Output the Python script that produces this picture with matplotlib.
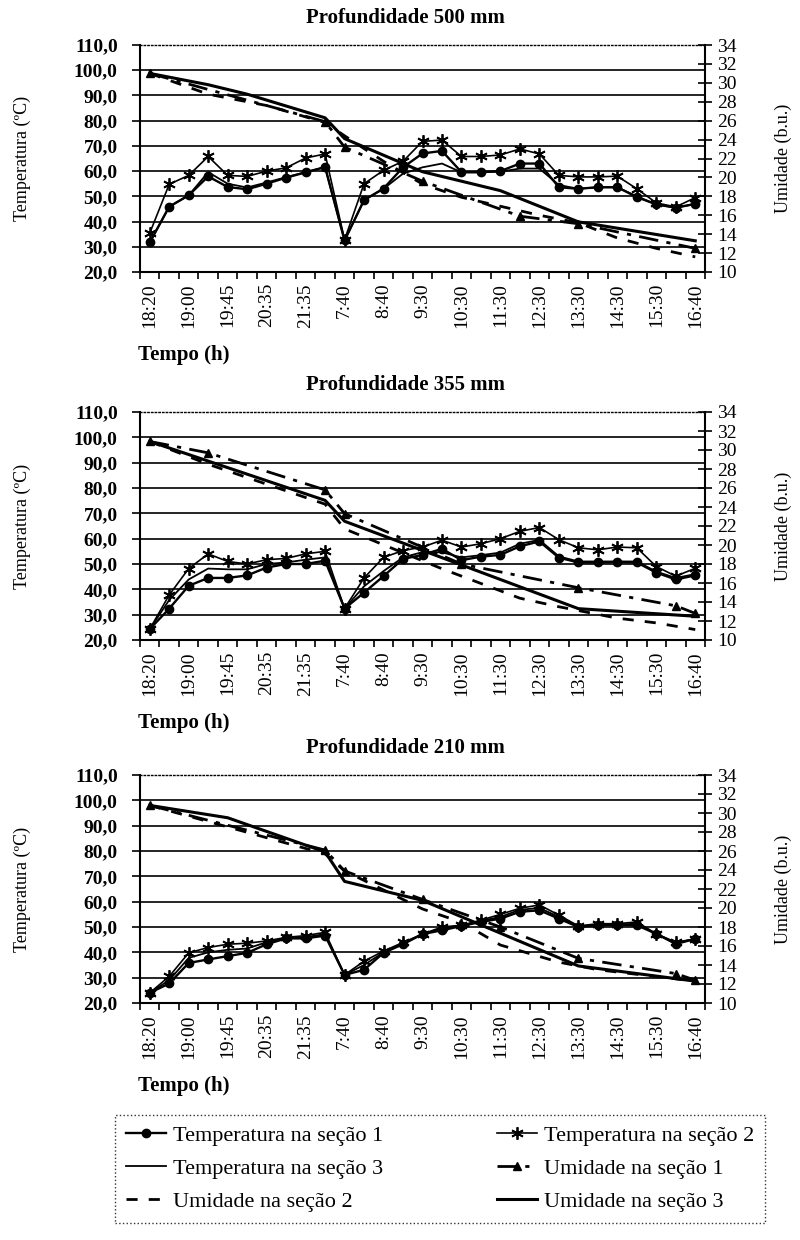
import numpy as np
import matplotlib.pyplot as plt
from matplotlib.lines import Line2D

plt.rcParams['font.family'] = ['Liberation Serif', 'DejaVu Serif']

# horários das leituras (rótulo a cada duas leituras)
tempos = ['18:20', '', '19:00', '', '19:45', '', '20:35', '', '21:35', '',
          '7:40', '', '8:40', '', '9:30', '', '10:30', '', '11:30', '',
          '12:30', '', '13:30', '', '14:30', '', '15:30', '', '16:40']

# ---- Profundidade 500 mm ----
t1_500 = [31.7, 45.9, 50.4, 57.9, 53.7, 52.8, 55.0, 57.4, 59.5, 61.6,
          32.5, 48.5, 53.1, 61.5, 67.0, 68.0, 59.6, 59.6, 60.0, 63.0,
          63.0, 53.6, 53.0, 53.6, 53.6, 49.7, 46.8, 45.5, 47.0]
t2_500 = [35.4, 54.8, 58.3, 65.8, 58.3, 57.9, 60.0, 61.3, 65.2, 66.8,
          32.8, 55.0, 60.3, 63.9, 71.8, 72.3, 65.8, 65.8, 66.4, 68.8,
          66.8, 58.3, 57.7, 57.7, 58.0, 53.0, 47.4, 45.8, 49.5]
t3_500 = [31.7, 45.9, 50.4, 59.6, 55.0, 53.5, 55.5, 57.6, 59.6, 61.6,
          32.5, 48.5, 53.0, 59.0, 61.5, 63.0, 59.5, 59.5, 59.8, 61.0,
          61.0, 54.5, 53.0, 53.6, 53.6, 50.0, 46.8, 45.5, 47.0]
u1_500_i = [0, 9, 10, 14, 19, 22, 28]
u1_500 = [31.0, 25.9, 23.2, 19.6, 15.9, 15.1, 12.5]
u2_500_i = [0, 3, 6, 9, 10, 12, 14, 16, 20, 22, 24, 26, 28]
u2_500 = [31.0, 28.8, 27.6, 25.8, 24.4, 21.7, 19.3, 17.9, 16.0, 15.2, 13.6, 12.5, 11.6]
u3_500_i = [0, 3, 5, 9, 10, 14, 18, 22, 28]
u3_500 = [31.0, 29.8, 28.8, 26.3, 24.1, 20.6, 18.6, 15.3, 13.3]

# ---- Profundidade 355 mm ----
t1_355 = [24.3, 32.4, 41.4, 44.5, 44.5, 45.5, 48.6, 50.0, 50.0, 51.3,
          32.4, 38.7, 45.2, 52.0, 53.6, 56.0, 51.5, 52.9, 53.6, 57.0,
          58.9, 52.5, 50.6, 50.6, 50.8, 50.6, 46.6, 43.9, 45.5]
t2_355 = [24.3, 37.8, 48.2, 54.0, 51.0, 50.0, 51.7, 52.2, 54.0, 55.0,
          32.4, 44.5, 52.6, 55.3, 56.7, 59.4, 56.7, 58.0, 60.0, 62.9,
          64.4, 59.6, 56.4, 55.6, 56.7, 56.4, 49.0, 45.2, 48.3]
t3_355 = [24.3, 35.8, 43.9, 48.2, 47.9, 47.9, 50.0, 50.6, 51.7, 52.6,
          32.4, 41.2, 47.2, 52.6, 54.7, 54.6, 52.6, 53.5, 54.5, 58.0,
          59.5, 53.0, 51.0, 51.0, 51.0, 51.0, 47.0, 44.5, 46.0]
u1_355_i = [0, 3, 9, 10, 16, 22, 27, 28]
u1_355 = [30.9, 29.7, 25.8, 23.3, 18.0, 15.5, 13.6, 12.8]
u2_355_i = [0, 3, 9, 10, 15, 19, 21, 24, 26, 28]
u2_355 = [30.9, 28.5, 24.3, 21.7, 17.5, 14.4, 13.5, 12.3, 11.8, 11.1]
u3_355_i = [0, 9, 10, 22, 28]
u3_355 = [30.9, 24.7, 22.5, 13.3, 12.5]

# ---- Profundidade 210 mm ----
t1_210 = [24.0, 27.7, 35.8, 37.2, 38.5, 39.8, 43.2, 45.5, 45.5, 46.6,
          31.1, 33.1, 39.8, 43.2, 47.2, 48.7, 50.4, 52.0, 53.3, 56.0,
          56.6, 53.3, 50.0, 50.7, 50.7, 50.7, 47.3, 43.3, 45.3]
t2_210 = [24.0, 30.5, 39.8, 41.9, 43.2, 43.6, 44.5, 45.9, 46.6, 47.9,
          31.1, 36.5, 40.5, 43.9, 47.2, 50.0, 50.7, 52.7, 55.0, 57.4,
          58.7, 54.7, 50.4, 51.3, 51.3, 52.0, 47.3, 44.0, 45.3]
t3_210 = [24.0, 29.0, 37.8, 40.0, 41.0, 41.5, 44.0, 45.7, 46.0, 47.2,
          31.1, 35.0, 40.0, 43.5, 47.2, 49.5, 50.5, 52.4, 54.0, 56.8,
          57.5, 54.0, 50.2, 51.0, 51.0, 51.3, 47.3, 43.7, 45.3]
u1_210_i = [0, 9, 10, 14, 18, 22, 27, 28]
u1_210 = [30.8, 26.1, 23.9, 20.9, 18.0, 14.7, 13.1, 12.4]
u2_210_i = [0, 9, 10, 14, 16, 18, 21, 23, 28]
u2_210 = [30.8, 25.7, 23.9, 19.9, 18.5, 16.1, 14.3, 13.5, 12.3]
u3_210_i = [0, 4, 9, 10, 14, 22, 28]
u3_210 = [30.8, 29.5, 25.9, 22.8, 20.8, 13.9, 12.3]

estilo_t1 = dict(color='k', lw=1.7, marker='o', ms=6)
estilo_t2 = dict(color='k', lw=1.2, marker=(6, 2, 0), ms=9, mew=1.3)
estilo_t3 = dict(color='k', lw=1.3)
estilo_u1 = dict(color='k', lw=2.0, ls=(0, (7, 3, 1.5, 3)), marker='^', ms=6)
estilo_u2 = dict(color='k', lw=2.0, ls=(0, (4, 4)))
estilo_u3 = dict(color='k', lw=2.2)


def painel(fig, rect, titulo, t1, t2, t3, u1i, u1, u2i, u2, u3i, u3):
    ax = fig.add_axes(rect)
    x = np.arange(len(tempos))
    ax.plot(x, t3, **estilo_t3)
    ax.plot(x, t2, **estilo_t2)
    ax.plot(x, t1, **estilo_t1)

    ax.set_xlim(-0.5, len(tempos) - 0.5)
    ax.set_ylim(20, 110)
    yt = list(range(20, 111, 10))
    ax.set_yticks(yt)
    ax.set_yticklabels([f'{v},0' for v in yt], fontsize=14, fontweight='bold')
    ax.tick_params(axis='y', direction='out', length=6, width=1.2, pad=10)
    ax.grid(axis='y', color='k', lw=1.2)
    for gl, v in zip(ax.get_ygridlines(), yt):
        if v in (20, 110):
            gl.set_visible(False)

    ax.set_xticks(np.arange(-0.5, len(tempos), 1))
    ax.set_xticklabels([])
    ax.tick_params(axis='x', which='major', direction='out', length=5, width=1.2)
    ax.set_xticks(x, minor=True)
    ax.set_xticklabels(tempos, minor=True, rotation=90, fontsize=14)
    ax.tick_params(axis='x', which='minor', length=0, pad=8)

    ax.spines['top'].set_linestyle(':')
    ax.spines['top'].set_linewidth(1.0)
    ax.spines['right'].set_visible(False)
    ax.spines['left'].set_linewidth(1.5)
    ax.spines['bottom'].set_linewidth(1.5)

    ax2 = ax.twinx()
    ax2.plot(np.array(u2i), u2, **estilo_u2)
    ax2.plot(np.array(u1i), u1, **estilo_u1)
    ax2.plot(np.array(u3i), u3, **estilo_u3)
    ax2.set_ylim(10, 34)
    ax2.set_yticks(range(10, 35, 2))
    ax2.set_yticklabels([str(v) for v in range(10, 35, 2)], fontsize=14)
    ax2.tick_params(axis='y', direction='inout', length=10, width=1.2, pad=4)
    for s in ('top', 'left', 'bottom'):
        ax2.spines[s].set_visible(False)
    ax2.spines['right'].set_linewidth(1.5)
    return ax


fig = plt.figure(figsize=(8, 12.4), dpi=100)
W, H = 800, 1240


def rect(top, bottom):
    return [140 / W, 1 - bottom / H, 565 / W, (bottom - top) / H]


paineis = [
    ('Profundidade 500 mm', 45, 272, t1_500, t2_500, t3_500,
     u1_500_i, u1_500, u2_500_i, u2_500, u3_500_i, u3_500),
    ('Profundidade 355 mm', 412, 640, t1_355, t2_355, t3_355,
     u1_355_i, u1_355, u2_355_i, u2_355, u3_355_i, u3_355),
    ('Profundidade 210 mm', 775, 1003, t1_210, t2_210, t3_210,
     u1_210_i, u1_210, u2_210_i, u2_210, u3_210_i, u3_210),
]

for titulo, topo, base, *dados in paineis:
    painel(fig, rect(topo, base), titulo, *dados)
    meio = (topo + base) / 2
    fig.text(405 / W, 1 - (topo - 27) / H, titulo, ha='center', va='center',
             fontsize=15, fontweight='bold')
    fig.text(22 / W, 1 - meio / H, 'Temperatura (ºC)', ha='center', va='center',
             rotation=90, fontsize=13)
    fig.text(783 / W, 1 - meio / H, 'Umidade (b.u.)', ha='center', va='center',
             rotation=90, fontsize=13)
    fig.text(138 / W, 1 - (base + 83) / H, 'Tempo (h)', ha='left', va='center',
             fontsize=15, fontweight='bold')

# legenda comum
h_t1 = Line2D([], [], **estilo_t1)
h_t2 = Line2D([], [], **estilo_t2)
h_t3 = Line2D([], [], **estilo_t3)
h_u1 = Line2D([], [], **estilo_u1)
h_u2 = Line2D([], [], **estilo_u2)
h_u3 = Line2D([], [], **estilo_u3)
handles = [h_t1, h_t3, h_u2, h_t2, h_u1, h_u3]
labels = ['Temperatura na seção 1', 'Temperatura na seção 3', 'Umidade na seção 2',
          'Temperatura na seção 2', 'Umidade na seção 1', 'Umidade na seção 3']
leg = fig.legend(handles, labels, ncol=2, loc='lower left',
                 bbox_to_anchor=(104 / W, 1 - 1234 / H, 672 / W, 0.08),
                 mode='expand', fontsize=16, handlelength=1.8, handletextpad=0.3,
                 labelspacing=0.55, borderpad=0.5, fancybox=False, frameon=True)
leg.get_frame().set_linestyle(':')
leg.get_frame().set_edgecolor('k')
leg.get_frame().set_linewidth(1.0)

fig.savefig('out.png', dpi=100)
